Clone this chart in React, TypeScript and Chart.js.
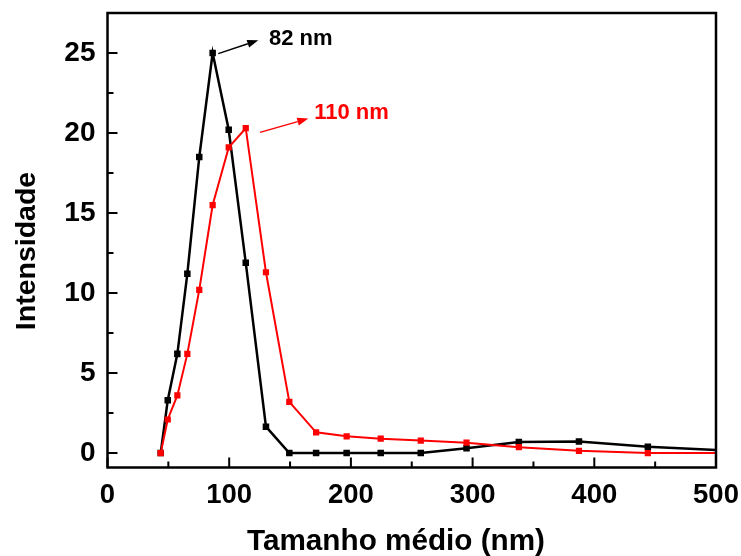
import React, { useEffect, useRef } from "react";
import { Chart, registerables } from "chart.js";

Chart.register(...registerables);

// Particle size bins (nm)
const sizes = [43.7, 49.5, 57.4, 65.6, 75.4, 86.4, 99.6, 113.6, 130.2, 149.4, 171.4, 196.5, 224.5, 257.4, 295, 338, 387.4, 444, 514];
// Black series intensity
const intensityBlack = [0, 3.3, 6.2, 11.2, 18.5, 25.0, 20.2, 11.9, 1.65, 0, 0, 0, 0, 0, 0.3, 0.7, 0.72, 0.4, 0.15];
// Red series intensity
const intensityRed = [0, 2.1, 3.6, 6.2, 10.2, 15.5, 19.1, 20.3, 11.3, 3.2, 1.3, 1.05, 0.9, 0.78, 0.65, 0.37, 0.14, 0, 0];

const xMajorTicks = [0, 100, 200, 300, 400, 500];
const xMinorTicks = [50, 150, 250, 350, 450];
const yMajorTicks = [0, 5, 10, 15, 20, 25];
const yMinorTicks = [2.5, 7.5, 12.5, 17.5, 22.5];

const xTitle = "Tamanho médio (nm)";
const yTitle = "Intensidade";
const peakBlackLabel = "82 nm";
const peakRedLabel = "110 nm";

const FONT = "'Liberation Sans', Arial, Helvetica, sans-serif";

export default function App() {
  const ref = useRef<HTMLCanvasElement | null>(null);

  useEffect(() => {
    document.body.style.margin = "0";
    const canvas = ref.current;
    if (!canvas) return;

    const framePlugin = {
      id: "frameTicks",
      afterDatasetsDraw(chart: any) {
        const ctx = chart.ctx;
        const { left, right, top, bottom } = chart.chartArea;
        const xs = chart.scales.x;
        const ys = chart.scales.y;
        ctx.save();
        ctx.strokeStyle = "#000";
        ctx.lineWidth = 2;
        ctx.beginPath();
        xMajorTicks.forEach((v) => {
          const p = xs.getPixelForValue(v);
          ctx.moveTo(p, bottom);
          ctx.lineTo(p, bottom - 10);
        });
        xMinorTicks.forEach((v) => {
          const p = xs.getPixelForValue(v);
          ctx.moveTo(p, bottom);
          ctx.lineTo(p, bottom - 6);
        });
        yMajorTicks.forEach((v) => {
          const p = ys.getPixelForValue(v);
          ctx.moveTo(left, p);
          ctx.lineTo(left + 10, p);
        });
        yMinorTicks.forEach((v) => {
          const p = ys.getPixelForValue(v);
          ctx.moveTo(left, p);
          ctx.lineTo(left + 6, p);
        });
        ctx.stroke();
        ctx.lineWidth = 2.5;
        ctx.strokeRect(left, top, right - left, bottom - top);

        // annotations
        const arrow = (x1: number, y1: number, x2: number, y2: number, color: string) => {
          const px1 = xs.getPixelForValue(x1), py1 = ys.getPixelForValue(y1);
          const px2 = xs.getPixelForValue(x2), py2 = ys.getPixelForValue(y2);
          const ang = Math.atan2(py2 - py1, px2 - px1);
          const hl = 11, hw = 4;
          ctx.strokeStyle = color;
          ctx.fillStyle = color;
          ctx.lineWidth = 1.5;
          ctx.beginPath();
          ctx.moveTo(px1, py1);
          ctx.lineTo(px2 - hl * Math.cos(ang), py2 - hl * Math.sin(ang));
          ctx.stroke();
          ctx.beginPath();
          ctx.moveTo(px2, py2);
          ctx.lineTo(px2 - hl * Math.cos(ang) + hw * Math.sin(ang), py2 - hl * Math.sin(ang) - hw * Math.cos(ang));
          ctx.lineTo(px2 - hl * Math.cos(ang) - hw * Math.sin(ang), py2 - hl * Math.sin(ang) + hw * Math.cos(ang));
          ctx.closePath();
          ctx.fill();
        };
        const label = (text: string, x: number, y: number, color: string) => {
          ctx.fillStyle = color;
          ctx.font = `bold 22px ${FONT}`;
          ctx.textAlign = "left";
          ctx.textBaseline = "middle";
          ctx.fillText(text, xs.getPixelForValue(x), ys.getPixelForValue(y));
        };
        arrow(91, 24.96, 123.9, 25.8, "#000");
        label(peakBlackLabel, 132.7, 25.9, "#000");
        arrow(125.3, 20.04, 165, 20.9, "#ff0000");
        label(peakRedLabel, 169.9, 21.25, "#ff0000");

        // axis titles
        ctx.fillStyle = "#000";
        ctx.textAlign = "center";
        ctx.textBaseline = "alphabetic";
        ctx.font = `bold 29.7px ${FONT}`;
        ctx.fillText(xTitle, 396, 550);
        ctx.save();
        ctx.translate(35, 251);
        ctx.rotate(-Math.PI / 2);
        ctx.font = `bold 28.5px ${FONT}`;
        ctx.fillText(yTitle, 0, 0);
        ctx.restore();
        ctx.restore();
      },
    };

    const noPad = (s: any) => {
      s.paddingTop = 0;
      s.paddingBottom = 0;
      s.paddingLeft = 0;
      s.paddingRight = 0;
    };

    const chart = new Chart(canvas, {
      type: "scatter",
      data: {
        datasets: [
          {
            label: "red",
            data: sizes.map((x, i) => ({ x, y: intensityRed[i] })),
            showLine: true,
            borderColor: "#ff0000",
            backgroundColor: "#ff0000",
            borderWidth: 2,
            pointStyle: "rect",
            pointRadius: 4.4,
            pointBorderWidth: 0,
          },
          {
            label: "black",
            data: sizes.map((x, i) => ({ x, y: intensityBlack[i] })),
            showLine: true,
            borderColor: "#000000",
            backgroundColor: "#000000",
            borderWidth: 2.5,
            pointStyle: "rect",
            pointRadius: 4.6,
            pointBorderWidth: 0,
          },
        ],
      },
      options: {
        animation: false,
        responsive: false,
        maintainAspectRatio: false,
        layout: { padding: { top: 13, right: 25, left: 0, bottom: 0 } },
        plugins: { legend: { display: false }, tooltip: { enabled: false } },
        scales: {
          x: {
            type: "linear",
            min: 0,
            max: 500,
            afterBuildTicks: (s: any) => {
              s.ticks = xMajorTicks.map((v) => ({ value: v }));
            },
            afterFit: (s: any) => {
              s.height = 88.5;
              noPad(s);
            },
            grid: { display: false, drawTicks: false },
            border: { display: false },
            ticks: {
              color: "#000",
              padding: 11,
              maxRotation: 0,
              font: { family: FONT, size: 27.5, weight: "bold" },
            },
            title: { display: false },
          },
          y: {
            type: "linear",
            min: -0.9,
            max: 27.5,
            afterBuildTicks: (s: any) => {
              s.ticks = yMajorTicks.map((v) => ({ value: v }));
            },
            afterFit: (s: any) => {
              s.width = 107.5;
              noPad(s);
            },
            grid: { display: false, drawTicks: false },
            border: { display: false },
            ticks: {
              color: "#000",
              padding: 12,
              font: { family: FONT, size: 28, weight: "bold" },
            },
            title: { display: false },
          },
        },
      },
      plugins: [framePlugin],
    } as any);

    return () => chart.destroy();
  }, []);

  return (
    <div style={{ width: 741, height: 556, background: "#fff" }}>
      <canvas ref={ref} width={741} height={556} style={{ display: "block" }} />
    </div>
  );
}
